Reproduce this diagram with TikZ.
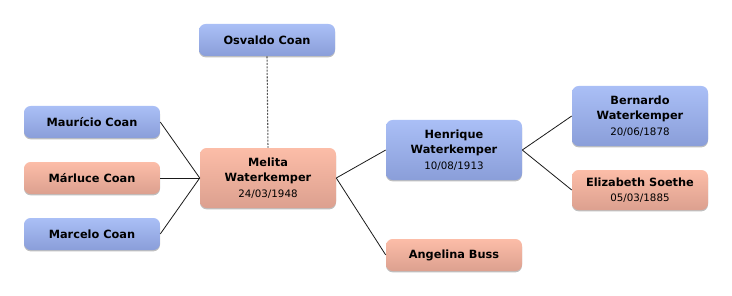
\documentclass[tikz,border=0pt]{standalone}
\usepackage{fontspec}
\setmainfont{DejaVu Sans}
\usetikzlibrary{shadows}

\definecolor{maletop}{HTML}{AABFF6}
\definecolor{malebot}{HTML}{8A9ED9}
\definecolor{femtop}{HTML}{FCBDA8}
\definecolor{fembot}{HTML}{DCA08F}
\definecolor{linkcol}{HTML}{1A1A1A}
\definecolor{dotcol}{HTML}{555555}

\newcommand{\bdate}[1]{{\mdseries\fontsize{7.7}{10}\selectfont #1}}

\begin{document}
\begin{tikzpicture}[x=0.75pt, y=-0.75pt,
    person/.style={rounded corners=5pt, minimum width=102pt, align=center,
        font=\fontsize{8.5}{11.5}\selectfont\bfseries,
        drop shadow={shadow xshift=0pt, shadow yshift=-1pt, opacity=0.25, fill=black}},
    male/.style={person, top color=maletop, bottom color=malebot},
    female/.style={person, top color=femtop, bottom color=fembot},
    link/.style={draw=linkcol, line width=0.6pt}]

\useasboundingbox (0,0) rectangle (732,296);

% Partner above
\node[male, minimum height=24pt] (osvaldo) at (267,40) {Osvaldo Coan};

% Children on the left
\node[male, minimum height=24pt] (mauricio) at (92,122) {Maurício Coan};
\node[female, minimum height=24pt] (marluce) at (92,178) {Márluce Coan};
\node[male, minimum height=24pt] (marcelo) at (92,234) {Marcelo Coan};

% Root person
\node[female, minimum height=45pt] (melita) at (268,178)
    {Melita\\Waterkemper\\\bdate{24/03/1948}};

% Parents
\node[male, minimum height=45pt] (henrique) at (454,150)
    {Henrique\\Waterkemper\\\bdate{10/08/1913}};
\node[female, minimum height=24pt] (angelina) at (454,255) {Angelina Buss};

% Grandparents
\node[male, minimum height=45pt] (bernardo) at (640,116)
    {Bernardo\\Waterkemper\\\bdate{20/06/1878}};
\node[female, minimum height=30pt] (elizabeth) at (640,190)
    {Elizabeth Soethe\\\bdate{05/03/1885}};

% Links
\draw[dotcol, line width=0.8pt, dash pattern=on 1.5pt off 1pt] (osvaldo.south) -- (melita.north);
\foreach \kid in {mauricio, marluce, marcelo} {
    \draw[link] (\kid.east) -- (melita.west);
}
\draw[link] (melita.east) -- (henrique.west);
\draw[link] (melita.east) -- (angelina.west);
\draw[link] (henrique.east) -- (bernardo.west);
\draw[link] (henrique.east) -- (elizabeth.west);

\end{tikzpicture}
\end{document}
